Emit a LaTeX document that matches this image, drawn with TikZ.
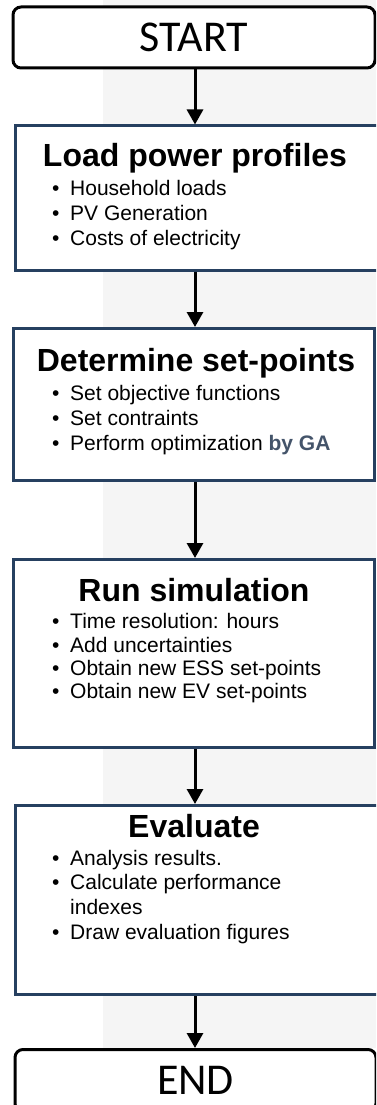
\documentclass[tikz,border=0pt]{standalone}
\usepackage{fontspec}
\setmainfont{Liberation Sans}
\newfontfamily\termfamily{Carlito}
\usetikzlibrary{arrows.meta,positioning,calc}

\definecolor{boxblue}{RGB}{38,64,96}
\definecolor{bggray}{RGB}{245,245,245}
\definecolor{gablue}{RGB}{68,84,106}

\newcommand{\bitem}[1]{\makebox[18pt][l]{\textbullet}#1}

\begin{document}
\begin{tikzpicture}[
      x=1pt, y=-1pt,
      terminal/.style={
         draw=black,
         line width=3pt,
         rounded corners=8pt,
         fill=white,
         anchor=north west,
         inner sep=0pt,
         font=\termfamily\fontsize{44}{44}\selectfont},
      stepbox/.style={
         draw=boxblue,
         line width=3pt,
         fill=white,
         anchor=north west,
         inner sep=0pt},
      steptitle/.style={anchor=base, inner sep=0pt, font=\bfseries\fontsize{32}{32}\selectfont},
      stepitem/.style={anchor=base west, inner sep=0pt, font=\fontsize{21}{25}\selectfont},
      myarrow/.style={-{Triangle[width=16pt,length=15pt]}, line width=3pt}
      ]
      \useasboundingbox (0,0) rectangle (376,1105);
      \clip (0,0) rectangle (376,1105);
      \fill[bggray] (103,0) rectangle (376,1048);

      % boxes
      \node[terminal, minimum width=362pt, minimum height=61pt] (start) at (11.5,5.5) {START};
      \node[stepbox, minimum width=368pt, minimum height=144pt] (load) at (13.5,124.5) {};
      \node[stepbox, minimum width=361pt, minimum height=152pt] (setp) at (11.5,327) {};
      \node[stepbox, minimum width=361pt, minimum height=188pt] (sim) at (11.5,558) {};
      \node[stepbox, minimum width=368pt, minimum height=189pt] (eval) at (13.5,804) {};
      \node[terminal, minimum width=361pt, minimum height=62pt] (end) at (13.5,1048) {END};

      % texts
      \node[steptitle] (load-title) at (195,166) {Load power profiles};
      \foreach \y/\t [count=\i] in {195/Household loads, 220/PV Generation, 245/Costs of electricity}
         \node[stepitem] (load-\i) at (52,\y) {\bitem{\t}};

      \node[steptitle] (setp-title) at (196,371) {Determine set-points};
      \foreach \y/\t [count=\i] in {400/Set objective functions, 425/Set contraints,
         450/{Perform optimization \textcolor{gablue}{\bfseries by GA}}}
         \node[stepitem] (setp-\i) at (52,\y) {\bitem{\t}};

      \node[steptitle] (sim-title) at (194,601) {Run simulation};
      \foreach \y/\t [count=\i] in {628/Time resolution: hours, 652/Add uncertainties,
         675/Obtain new ESS set-points, 698/Obtain new EV set-points}
         \node[stepitem] (sim-\i) at (52,\y) {\bitem{\t}};

      \node[steptitle] (eval-title) at (194,837) {Evaluate};
      \node[stepitem] (eval-1) at (52,865) {\bitem{Analysis results.}};
      \node[stepitem] (eval-2) at (52,889) {\bitem{Calculate performance}};
      \node[stepitem] (eval-3) at (70,914) {indexes};
      \node[stepitem] (eval-4) at (52,939) {\bitem{Draw evaluation figures}};

      % arrows
      \coordinate (axis) at (195,0);
      \foreach \a/\b in {start/load, load/setp, setp/sim, sim/eval, eval/end}
         \draw[myarrow] (\a.south -| axis) -- (\b.north -| axis);
    \end{tikzpicture}
\end{document}
